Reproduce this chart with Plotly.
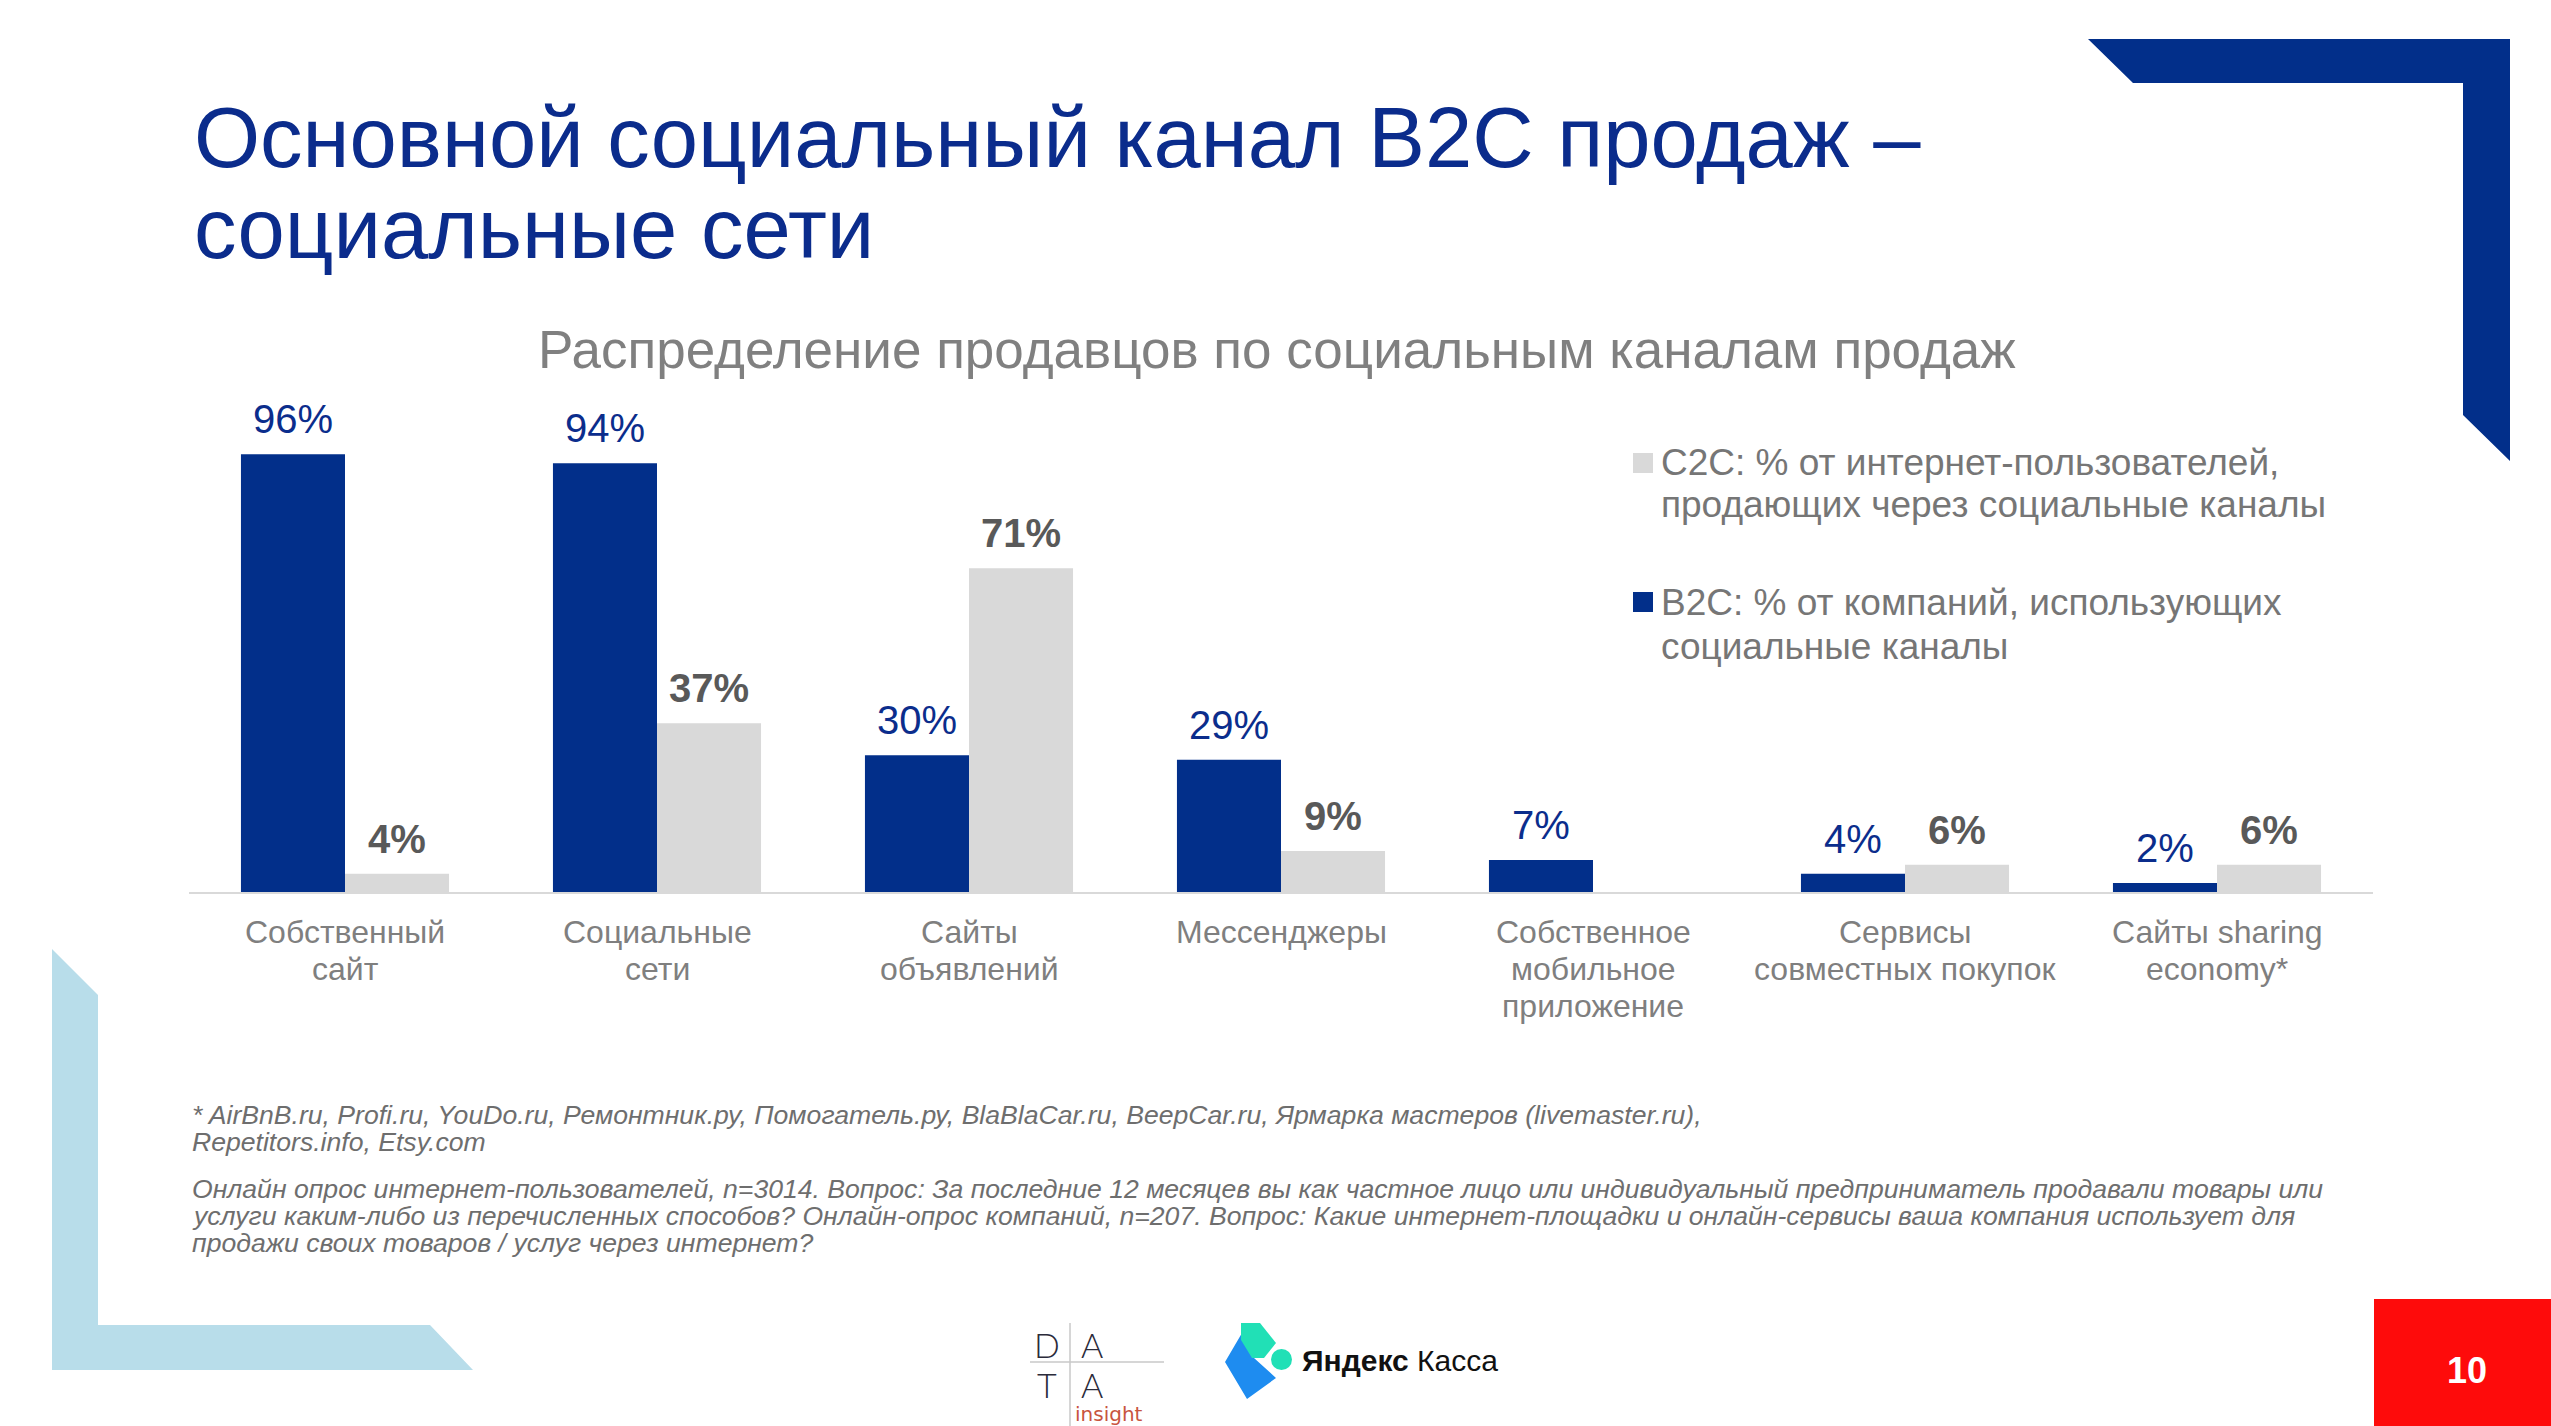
import plotly.graph_objects as go

W, H = 2551, 1426
FONT = "Liberation Sans, Arial, sans-serif"

categories = ["Собственный<br>сайт", "Социальные<br>сети", "Сайты<br>объявлений", "Мессенджеры",
              "Собственное<br>мобильное<br>приложение", "Сервисы<br>совместных покупок",
              "Сайты sharing<br>economy*"]
b2c_values = [96, 94, 30, 29, 7, 4, 2]
c2c_values = [4, 37, 71, 9, None, 6, 6]
b2c_legend = ["B2C: % от компаний, использующих", "социальные каналы"]
c2c_legend = ["C2C: % от интернет-пользователей,", "продающих через социальные каналы"]
title_lines = ["Основной социальный канал B2C продаж –", "социальные сети"]
subtitle = "Распределение продавцов по социальным каналам продаж"
footnotes = [
    "* AirBnB.ru, Profi.ru, YouDo.ru, Ремонтник.ру, Помогатель.ру, BlaBlaCar.ru, BeepCar.ru, Ярмарка мастеров (livemaster.ru),",
    "Repetitors.info, Etsy.com",
    "Онлайн опрос интернет-пользователей, n=3014. Вопрос: За последние 12 месяцев вы как частное лицо или индивидуальный предприниматель продавали товары или",
    "услуги каким-либо из перечисленных способов? Онлайн-опрос компаний, n=207. Вопрос: Какие интернет-площадки и онлайн-сервисы ваша компания использует для",
    "продажи своих товаров / услуг через интернет?",
]
page_number = "10"

BLUE = "#022F8A"
GRAY_BAR = "#D9D9D9"

# plot area in page pixels
X0, X1, Y0, Y1 = 189, 2373, 436, 892
BAR_HALF = 52  # half of one bar's width in pixels (used for label offsets)


def px(x):
    return x / W


def py(y):
    return 1 - y / H


def path(points):
    return "M " + " L ".join(f"{px(x)},{py(y)}" for x, y in points) + " Z"


def txt(s, x, base, size, color, anchor="left", family=FONT, weight=None, style=None, xref="paper"):
    f = dict(size=size, color=color, family=family)
    if weight:
        f["weight"] = weight
    if style:
        f["style"] = style
    return dict(text=s, x=px(x) if xref == "paper" else x, y=py(base - 0.35 * size), xref=xref,
                yref="paper", xanchor=anchor, yanchor="middle", showarrow=False, font=f)


fig = go.Figure()
fig.add_trace(go.Bar(x=categories, y=b2c_values, marker_color=BLUE, marker_line_width=0,
                     cliponaxis=False, showlegend=False, name="B2C"))
fig.add_trace(go.Bar(x=categories, y=c2c_values, marker_color=GRAY_BAR, marker_line_width=0,
                     cliponaxis=False, showlegend=False, name="C2C"))

shapes = []
shapes.append(dict(type="path", xref="paper", yref="paper", line_width=0, fillcolor=BLUE,
                   path=path([(2088, 39), (2510, 39), (2510, 461), (2463, 415), (2463, 83), (2133, 83)])))
shapes.append(dict(type="path", xref="paper", yref="paper", line_width=0, fillcolor="#B8DDEA",
                   path=path([(52, 949), (98, 995), (98, 1325), (430, 1325), (473, 1370), (52, 1370)])))
shapes.append(dict(type="rect", xref="paper", yref="paper", line_width=0, fillcolor="#FE0B0B",
                   x0=px(2374), x1=px(2551), y0=py(1426), y1=py(1299)))
shapes.append(dict(type="rect", xref="paper", yref="paper", line_width=0, fillcolor=GRAY_BAR,
                   x0=px(1633), x1=px(1653), y0=py(473), y1=py(453)))
shapes.append(dict(type="rect", xref="paper", yref="paper", line_width=0, fillcolor=BLUE,
                   x0=px(1633), x1=px(1653), y0=py(612), y1=py(592)))
shapes.append(dict(type="line", xref="paper", yref="paper", line=dict(color="#C8C8C8", width=1.5),
                   x0=px(1030), x1=px(1164), y0=py(1362), y1=py(1362)))
shapes.append(dict(type="line", xref="paper", yref="paper", line=dict(color="#C8C8C8", width=1.5),
                   x0=px(1070), x1=px(1070), y0=py(1323), y1=py(1426)))
shapes.append(dict(type="path", xref="paper", yref="paper", line_width=0, fillcolor="#1E8CF0",
                   path=path([(1242, 1333), (1225, 1362), (1247, 1399), (1276, 1378), (1254, 1358), (1262, 1346)])))
shapes.append(dict(type="path", xref="paper", yref="paper", line_width=0, fillcolor="#21E0B6",
                   path=path([(1241, 1323), (1260, 1323), (1276, 1343), (1264, 1358), (1252, 1358), (1241, 1340)])))
shapes.append(dict(type="circle", xref="paper", yref="paper", line_width=0, fillcolor="#21E0B6",
                   x0=px(1271), x1=px(1292), y0=py(1370), y1=py(1349)))

ann = []
ann.append(txt(title_lines[0], 192, 167, 85, "#0B2C8C"))
ann.append(txt(title_lines[1], 192, 258, 85, "#0B2C8C"))
ann.append(txt(subtitle, 1277, 368, 53, "#808080", anchor="center"))
for s, b in zip(c2c_legend + b2c_legend, [475, 517, 615, 659]):
    ann.append(txt(s, 1659, b, 37, "#767676"))
for s, b in zip(footnotes, [1124, 1151, 1198, 1225, 1252]):
    ann.append(txt(s, 190, b, 26.6, "#6E6E6E", style="italic"))
ann.append(txt(page_number, 2467, 1383, 36, "white", anchor="center", weight=700))

# category labels, one annotation per line, placed on the category axis
for cat in categories:
    for j, line in enumerate(cat.split("<br>")):
        ann.append(txt(line, cat, 943 + 37 * j, 32, "#7F7F7F", anchor="center", xref="x"))

# value labels above bars
for vals, shift, color, weight in [(b2c_values, -BAR_HALF, "#0B2D8C", None),
                                   (c2c_values, BAR_HALF, "#595959", 700)]:
    for cat, v in zip(categories, vals):
        if v is None:
            continue
        f = dict(size=40, color=color, family=FONT)
        if weight:
            f["weight"] = weight
        ann.append(dict(text=f"{v}%", x=cat, y=v, xref="x", yref="y", xanchor="center",
                        yanchor="bottom", xshift=shift, yshift=11, showarrow=False, font=f))

# DATA insight logo text
for s, x, b in [("D", 1047, 1356), ("A", 1092, 1356), ("T", 1047, 1396), ("A", 1092, 1396)]:
    ann.append(txt(s, x, b, 34, "#2B2B3A", anchor="center", family="Lato, " + FONT, weight=300))
ann.append(txt("insight", 1073, 1421, 20, "#C8553F", family="DejaVu Sans, " + FONT))
# Yandex Kassa text
ann.append(txt("<b>Яндекс</b> Касса", 1300, 1371, 30, "#111111", family=FONT))

fig.update_layout(
    width=W, height=H, margin=dict(l=0, r=0, t=0, b=0),
    paper_bgcolor="white", plot_bgcolor="white",
    barmode="group", bargap=0.333, bargroupgap=0,
    shapes=shapes, annotations=ann,
    xaxis=dict(domain=[px(X0), px(X1)], showline=True, linecolor="#D9D9D9", linewidth=2,
               showgrid=False, zeroline=False, ticks="", showticklabels=False, fixedrange=True),
    yaxis=dict(domain=[py(Y1), py(Y0)], range=[0, 100], visible=False, fixedrange=True),
    font=dict(family=FONT),
)

fig.write_html("out.html", config={"displayModeBar": False},
               post_script="document.body.style.margin='0';document.body.style.overflow='hidden';")
